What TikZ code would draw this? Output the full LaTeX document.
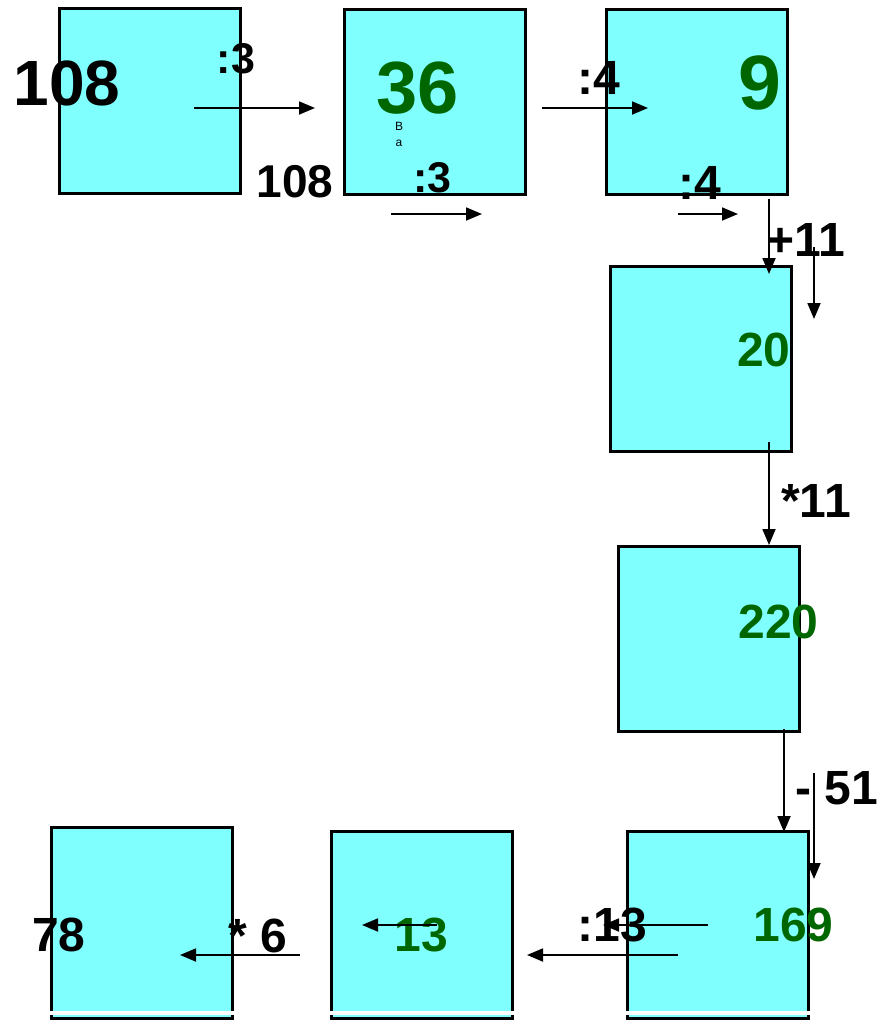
\documentclass[tikz,border=0pt]{standalone}
\usepackage{fontspec}
\setmainfont{Liberation Sans}
\usetikzlibrary{arrows.meta, calc}

\definecolor{aqua}{RGB}{128,255,255}
\definecolor{leaf}{RGB}{0,102,0}

\begin{document}
\begin{tikzpicture}[
    x = 1pt, y = -1pt,
    >={Triangle[length = 16pt, width = 13pt]},
    %
    cell/.style = {draw, fill = aqua,
      line width = 3pt,
      inner sep = 0pt,
      minimum width = {181pt},
      minimum height = {185pt}},
    %
    num/.style = {inner sep = 0pt,
      font = \bfseries\fontsize{#1}{#1}\selectfont},
    num/.default = 48,
    result/.style = {leaf},
    step arrow/.style = {line width = 1.8pt},
    stripe/.style = {white, line width = 4pt},
    ]

    \useasboundingbox (0, 0) rectangle (892, 1021);

    % boxes
    \node at (150, 101) [cell, name = B_108] {};
    \node at (434.5, 101.5) [cell, name = B_36] {};
    \node at (696.5, 101.5) [cell, name = B_9] {};
    \node at (701, 358.5) [cell, name = B_20] {};
    \node at (709, 638.5) [cell, name = B_220] {};
    \node at (718, 925) [cell, minimum height = 187pt, name = B_169] {};
    \node at (421.5, 925) [cell, name = B_13, minimum height = 187pt] {};
    \node at (141.5, 923) [cell, minimum height = 191pt, name = B_78] {};

    \foreach \b in {B_169, B_13, B_78}
      \draw [stripe] ($(\b.south west) + (-3, -7)$) -- ($(\b.south east) + (3, -7)$);

    % numbers
    \node at (67, 83) [num = 64, name = T_108] {108};
    \node at (417.5, 88.5) [num = 74, result, name = T_36] {36};
    \node at (760, 82.5) [num = 77, result, name = T_9] {9};
    \node at (764, 349.5) [num, result, name = T_20] {20};
    \node at (778.5, 621.5) [num, result, name = T_220] {220};
    \node at (793.5, 925) [num, result, name = T_169] {169};
    \node at (421.5, 935) [num, result, name = T_13] {13};
    \node at (59, 934.5) [num, name = T_78] {78};

    \node at (295, 181.5) [num = 46, name = T_108b] {108};
    \node at (399, 126) [inner sep = 0pt, font = \fontsize{12}{12}\selectfont, name = T_B] {B};
    \node at (399, 143) [inner sep = 0pt, font = \fontsize{12}{12}\selectfont, name = T_a] {a};

    % operations
    \node at (236, 58.5) [num = 43, name = L_div3] {:3};
    \node at (432.5, 177.5) [num = 43, name = L_div3b] {:3};
    \node at (598.5, 77.5) [num, name = L_div4] {:4};
    \node at (700, 182.5) [num, name = L_div4b] {:4};
    \node at (806, 239.5) [num, name = L_add] {+11};
    \node at (816, 500.5) [num, name = L_mul] {*11};
    \node at (837, 788.5) [num, name = L_sub] {- 51};
    \node at (612.5, 925) [num, name = L_div13] {:13};
    \node at (257.5, 936) [num, name = L_mul6] {* 6};

    % arrow ends
    \coordinate (a1) at (194, 108);   \coordinate (b1) at (315, 108);
    \coordinate (a2) at (391, 214);   \coordinate (b2) at (482, 214);
    \coordinate (a3) at (542, 108);   \coordinate (b3) at (648, 108);
    \coordinate (a4) at (678, 214);   \coordinate (b4) at (738, 214);
    \coordinate (a5) at (769, 199);   \coordinate (b5) at (769, 274);
    \coordinate (a6) at (814, 247);   \coordinate (b6) at (814, 319);
    \coordinate (a7) at (769, 442);   \coordinate (b7) at (769, 545);
    \coordinate (a8) at (784, 729);   \coordinate (b8) at (784, 832);
    \coordinate (a9) at (814, 773);   \coordinate (b9) at (814, 879);
    \coordinate (a10) at (708, 925);  \coordinate (b10) at (603, 925);
    \coordinate (a11) at (678, 955);  \coordinate (b11) at (527, 955);
    \coordinate (a12) at (437, 925);  \coordinate (b12) at (362, 925);
    \coordinate (a13) at (300, 955);  \coordinate (b13) at (180, 955);

    \foreach \i in {1, ..., 13}
      \draw [->, step arrow] (a\i) -- (b\i);

  \end{tikzpicture}
\end{document}
